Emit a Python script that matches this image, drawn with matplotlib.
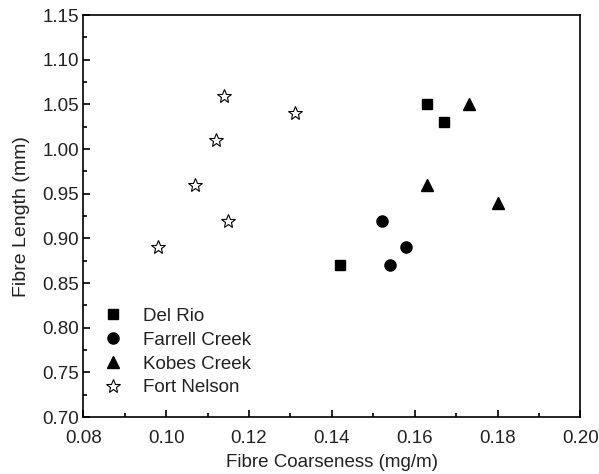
import matplotlib

matplotlib.use("Agg")
import matplotlib.pyplot as plt
from matplotlib.ticker import MultipleLocator, FormatStrFormatter

plt.rcParams["font.family"] = ["Liberation Sans", "DejaVu Sans"]

# fibre coarseness (mg/m) and length (mm) per site
del_rio_x = [0.163, 0.167, 0.142]
del_rio_y = [1.05, 1.03, 0.87]
farrell_x = [0.152, 0.158, 0.154]
farrell_y = [0.92, 0.89, 0.87]
kobes_x = [0.173, 0.163, 0.180]
kobes_y = [1.05, 0.96, 0.94]
nelson_x = [0.098, 0.107, 0.112, 0.114, 0.115, 0.131]
nelson_y = [0.89, 0.96, 1.01, 1.06, 0.92, 1.04]

FS = 13.5
INK = "#222222"

fig = plt.figure(figsize=(5.99, 4.74), dpi=100)
ax = fig.add_axes([0.139, 0.120, 0.830, 0.848])

ax.plot(del_rio_x, del_rio_y, "s", color="black", ms=7, ls="none", label="Del Rio")
ax.plot(farrell_x, farrell_y, "o", color="black", ms=8, ls="none", label="Farrell Creek")
ax.plot(kobes_x, kobes_y, "^", color="black", ms=9, ls="none", label="Kobes Creek")
ax.plot(nelson_x, nelson_y, "*", mfc="white", mec="black", mew=0.8, ms=10,
        ls="none", label="Fort Nelson")

ax.set_xlim(0.08, 0.20)
ax.set_ylim(0.70, 1.15)
ax.xaxis.set_major_locator(MultipleLocator(0.02))
ax.xaxis.set_minor_locator(MultipleLocator(0.01))
ax.yaxis.set_major_locator(MultipleLocator(0.05))
ax.yaxis.set_minor_locator(MultipleLocator(0.025))
ax.xaxis.set_major_formatter(FormatStrFormatter("%.2f"))
ax.yaxis.set_major_formatter(FormatStrFormatter("%.2f"))
ax.tick_params(which="both", direction="in", labelsize=FS, width=1.2,
               labelcolor=INK)
ax.tick_params(which="major", length=5)
ax.tick_params(which="minor", length=3)
ax.tick_params(axis="x", which="major", pad=9.5)
ax.tick_params(axis="y", which="major", pad=3)
for s in ax.spines.values():
    s.set_linewidth(1.2)

ax.set_xlabel("Fibre Coarseness (mg/m)", fontsize=FS, labelpad=5, color=INK)
ax.set_ylabel("Fibre Length (mm)", fontsize=14, labelpad=9, color=INK)

leg = ax.legend(loc="lower left", frameon=False, fontsize=FS, handletextpad=1.1,
                labelspacing=0.36, borderaxespad=0.8, handlelength=1.0,
                borderpad=0.3)
for t in leg.get_texts():
    t.set_color(INK)

fig.savefig("out.png", dpi=100)
